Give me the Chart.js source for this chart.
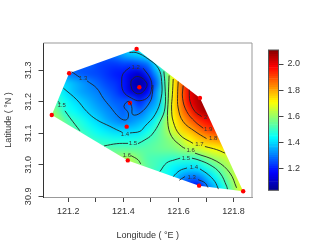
<!DOCTYPE html>
<html>
<head>
<meta charset="utf-8">
<style>
  body { margin: 0; background: #fff; }
  #wrap { position: relative; width: 319px; height: 252px; overflow: hidden; }
  canvas { position: absolute; filter: blur(0.3px); }
</style>
<script src="https://cdn.jsdelivr.net/npm/chart.js@4"></script>
</head>
<body>
<div id="wrap">
  <canvas id="field" width="319" height="252" style="left:0;top:0"></canvas>
  <canvas id="bar" width="59" height="170" style="left:260px;top:40px"></canvas>
</div>
<script>
// stations (red dots)
var stationLon = [121.448, 121.203, 121.140, 121.458, 121.424, 121.412, 121.678, 121.416, 121.675, 121.835];
var stationLat = [31.367, 31.290, 31.158, 31.246, 31.196, 31.121, 31.212, 31.014, 30.934, 30.916];
var hullOrder = [0, 6, 9, 8, 7, 2, 1];

// axes
var xTicks = [121.2, 121.3, 121.4, 121.5, 121.6, 121.7, 121.8];
var yTicks = [30.9, 31.0, 31.1, 31.2, 31.3];
var barTicks = [1.2, 1.4, 1.6, 1.8, 2.0];

// field values, one row per latitude
var gridLon = [121.13, 121.16, 121.19, 121.22, 121.25, 121.28, 121.31, 121.34, 121.37, 121.40, 121.43, 121.46, 121.49,
               121.52, 121.55, 121.58, 121.61, 121.64, 121.67, 121.70, 121.73, 121.76, 121.79, 121.82, 121.85];
var gridLat = [31.38, 31.35, 31.32, 31.29, 31.26, 31.23, 31.20, 31.17, 31.14, 31.11, 31.08, 31.05, 31.02, 30.99, 30.96, 30.93, 30.90];
var gridZ = [
  [1.28,1.28,1.28,1.28,1.28,1.28,1.28,1.28,1.30,1.36,1.40,1.42,1.46,1.54,1.70,1.85,1.95,2.05,2.08,2.10,2.10,2.10,2.10,2.10,2.10],
  [1.28,1.28,1.28,1.28,1.28,1.28,1.28,1.28,1.30,1.35,1.38,1.40,1.44,1.50,1.60,1.75,1.90,2.00,2.08,2.10,2.10,2.10,2.10,2.10,2.10],
  [1.27,1.27,1.27,1.27,1.27,1.27,1.24,1.23,1.23,1.24,1.24,1.26,1.30,1.42,1.55,1.72,1.88,2.00,2.08,2.10,2.10,2.10,2.10,2.10,2.10],
  [1.35,1.33,1.30,1.28,1.26,1.25,1.24,1.22,1.20,1.19,1.14,1.12,1.22,1.34,1.52,1.70,1.86,2.00,2.08,2.10,2.10,2.10,2.10,2.10,2.10],
  [1.42,1.40,1.39,1.36,1.33,1.30,1.27,1.24,1.22,1.19,1.10,1.06,1.13,1.28,1.50,1.70,1.86,2.00,2.08,2.10,2.10,2.10,2.10,2.10,2.10],
  [1.50,1.46,1.41,1.37,1.34,1.32,1.30,1.27,1.24,1.20,1.13,1.10,1.18,1.33,1.50,1.71,1.86,1.99,2.06,2.10,2.10,2.10,2.10,2.10,2.10],
  [1.55,1.50,1.45,1.41,1.38,1.35,1.32,1.30,1.27,1.26,1.27,1.21,1.28,1.35,1.50,1.72,1.85,1.98,2.05,2.08,2.10,2.10,2.10,2.10,2.10],
  [1.60,1.55,1.47,1.44,1.41,1.38,1.35,1.32,1.30,1.27,1.31,1.28,1.34,1.39,1.50,1.72,1.83,1.92,2.02,2.07,2.10,2.10,2.10,2.10,2.10],
  [1.62,1.60,1.53,1.49,1.46,1.42,1.39,1.35,1.32,1.30,1.32,1.35,1.385,1.46,1.58,1.70,1.78,1.86,1.92,1.96,2.00,2.02,2.02,2.02,2.02],
  [1.65,1.62,1.56,1.53,1.49,1.46,1.43,1.41,1.39,1.39,1.39,1.405,1.45,1.51,1.58,1.66,1.74,1.78,1.84,1.89,1.92,1.92,1.92,1.92,1.92],
  [1.68,1.66,1.62,1.58,1.54,1.50,1.48,1.47,1.46,1.46,1.46,1.47,1.505,1.53,1.56,1.595,1.64,1.71,1.75,1.785,1.81,1.83,1.83,1.83,1.83],
  [1.70,1.68,1.65,1.62,1.60,1.57,1.53,1.53,1.53,1.53,1.53,1.53,1.53,1.54,1.55,1.56,1.59,1.62,1.65,1.68,1.70,1.72,1.74,1.74,1.74],
  [1.70,1.70,1.68,1.66,1.65,1.64,1.63,1.62,1.60,1.61,1.61,1.56,1.52,1.51,1.50,1.49,1.49,1.49,1.50,1.56,1.60,1.63,1.66,1.70,1.70],
  [1.70,1.70,1.70,1.70,1.70,1.70,1.70,1.68,1.66,1.65,1.62,1.58,1.53,1.50,1.47,1.43,1.41,1.40,1.41,1.46,1.51,1.57,1.62,1.66,1.70],
  [1.70,1.70,1.70,1.70,1.70,1.70,1.70,1.68,1.66,1.65,1.60,1.55,1.50,1.46,1.45,1.41,1.33,1.29,1.29,1.36,1.43,1.51,1.59,1.67,1.70],
  [1.70,1.70,1.70,1.70,1.70,1.70,1.70,1.68,1.66,1.65,1.60,1.55,1.48,1.42,1.36,1.30,1.25,1.20,1.16,1.28,1.36,1.45,1.55,1.65,1.72],
  [1.70,1.70,1.70,1.70,1.70,1.70,1.70,1.68,1.66,1.65,1.60,1.55,1.48,1.42,1.36,1.30,1.22,1.17,1.13,1.26,1.34,1.44,1.54,1.66,1.74]
];

// contour lines, split where a label sits
var c11Lon = [121.427, 121.430, 121.454, 121.485, 121.478, 121.457, 121.435, 121.427];
var c11Lat = [31.253, 31.269, 31.280, 31.259, 31.238, 31.225, 31.234, 31.253];
var c12Lon = [121.424, 121.400, 121.394, 121.400, 121.430, 121.460, 121.491, 121.503, 121.497, 121.472];
var c12Lat = [31.309, 31.290, 31.269, 31.232, 31.211, 31.203, 31.216, 31.248, 31.275, 31.306];
var c13aLon = [121.212, 121.242];
var c13aLat = [31.295, 31.277];
var c13bLon = [121.268, 121.303, 121.327, 121.351, 121.388, 121.412, 121.418, 121.402, 121.418, 121.430, 121.434, 121.461, 121.497, 121.506, 121.507];
var c13bLat = [31.266, 31.243, 31.211, 31.185, 31.148, 31.143, 31.164, 31.185, 31.201, 31.185, 31.159, 31.164, 31.200, 31.231, 31.253];
var c13cLon = [121.603, 121.624];
var c13cLat = [30.951, 30.963];
var c13dLon = [121.671, 121.696, 121.707];
var c13dLat = [30.953, 30.943, 30.928];
var c14aLon = [121.182, 121.231, 121.267, 121.303, 121.351, 121.376, 121.394];
var c14aLat = [31.243, 31.206, 31.169, 31.143, 31.122, 31.111, 31.104];
var c14bLon = [121.424, 121.460, 121.478, 121.515, 121.537, 121.539, 121.527, 121.489, 121.449, 121.422];
var c14bLat = [31.101, 31.106, 31.122, 31.159, 31.211, 31.264, 31.306, 31.336, 31.355, 31.356];
var c14cLon = [121.581, 121.605, 121.631];
var c14cLat = [30.963, 30.982, 30.990];
var c14dLon = [121.678, 121.708, 121.732, 121.745];
var c14dLat = [30.987, 30.969, 30.947, 30.923];
var c15aLon = [121.164, 121.170];
var c15aLat = [31.201, 31.193];
var c15bLon = [121.188, 121.206, 121.242];
var c15bLat = [31.171, 31.149, 31.108];
var c15cLon = [121.330, 121.376, 121.417];
var c15cLat = [31.060, 31.067, 31.068];
var c15dLon = [121.453, 121.478, 121.503, 121.533, 121.551, 121.551, 121.547];
var c15dLat = [31.067, 31.079, 31.095, 31.137, 31.180, 31.253, 31.296];
var c15eLon = [121.533, 121.557, 121.587, 121.606];
var c15eLat = [30.979, 31.006, 31.016, 31.021];
var c15fLon = [121.649, 121.671, 121.714, 121.751, 121.775, 121.778];
var c15fLat = [31.021, 31.016, 31.000, 30.974, 30.932, 30.923];
var c16aLon = [121.566, 121.563, 121.561, 121.575, 121.612, 121.624];
var c16aLat = [31.283, 31.211, 31.137, 31.090, 31.058, 31.052];
var c16bLon = [121.660, 121.739, 121.787, 121.811];
var c16bLat = [31.037, 31.011, 30.974, 30.927];
var c16cLon = [121.428, 121.453, 121.463];
var c16cLat = [31.029, 31.016, 31.003];
var c17aLon = [121.581, 121.578, 121.575, 121.581, 121.605, 121.653];
var c17aLat = [31.272, 31.222, 31.180, 31.137, 31.095, 31.068];
var c17bLon = [121.696, 121.739, 121.769];
var c17bLat = [31.058, 31.048, 31.037];
var c18aLon = [121.599, 121.597, 121.599, 121.617, 121.660, 121.702];
var c18aLat = [31.264, 31.222, 31.180, 31.137, 31.106, 31.083];
var c19Lon = [121.617, 121.615, 121.630, 121.660, 121.690];
var c19Lat = [31.251, 31.211, 31.169, 31.137, 31.116];
var c20Lon = [121.639, 121.642, 121.660, 121.684];
var c20Lat = [31.238, 31.201, 31.169, 31.153];

var contourLines = [
  [c11Lon, c11Lat], [c12Lon, c12Lat], [c13aLon, c13aLat], [c13bLon, c13bLat], [c13cLon, c13cLat], [c13dLon, c13dLat],
  [c14aLon, c14aLat], [c14bLon, c14bLat], [c14cLon, c14cLat], [c14dLon, c14dLat],
  [c15aLon, c15aLat], [c15bLon, c15bLat], [c15cLon, c15cLat], [c15dLon, c15dLat], [c15eLon, c15eLat], [c15fLon, c15fLat],
  [c16aLon, c16aLat], [c16bLon, c16bLat], [c16cLon, c16cLat], [c17aLon, c17aLat], [c17bLon, c17bLat],
  [c18aLon, c18aLat], [c19Lon, c19Lat], [c20Lon, c20Lat]
];

var contourText = ['1.2', '1.3', '1.3', '1.4', '1.4', '1.5', '1.5', '1.5', '1.6', '1.6', '1.7', '1.8', '1.9', '2'];
var contourTextLon = [121.445, 121.254, 121.648, 121.406, 121.656, 121.176, 121.435, 121.627, 121.413, 121.644, 121.676, 121.726, 121.708, 121.699];
var contourTextLat = [31.309, 31.273, 30.959, 31.098, 30.992, 31.187, 31.067, 31.022, 31.029, 31.046, 31.066, 31.083, 31.113, 31.150];

var zMin = 1.035, zMax = 2.107;
var textColor = '#333';
var fontFamily = '"Liberation Sans", Arial, sans-serif';

function jet(t) {
  var stops = [[0, 0, 0, 143], [0.125, 0, 0, 255], [0.375, 0, 255, 255], [0.625, 255, 255, 0], [0.875, 255, 0, 0], [1, 128, 0, 0]];
  t = Math.max(0, Math.min(1, t));
  for (var i = 1; i < stops.length; i++) {
    if (t <= stops[i][0]) {
      var a = stops[i - 1], b = stops[i], f = (t - a[0]) / (b[0] - a[0]);
      return [a[1] + f * (b[1] - a[1]), a[2] + f * (b[2] - a[2]), a[3] + f * (b[3] - a[3])].map(Math.round);
    }
  }
  return [128, 0, 0];
}

// paints the grid through the scales, clipped to the station hull
var fieldPlugin = {
  id: 'fieldPlugin',
  beforeDatasetsDraw: function (chart) {
    var ctx = chart.ctx, sx = chart.scales.x, sy = chart.scales.y;
    var off = document.createElement('canvas');
    off.width = gridLon.length;
    off.height = gridLat.length;
    var octx = off.getContext('2d');
    var img = octx.createImageData(off.width, off.height);
    gridZ.forEach(function (row, r) {
      row.forEach(function (z, c) {
        var rgb = jet((z - zMin) / (zMax - zMin)), k = (r * off.width + c) * 4;
        img.data[k] = rgb[0]; img.data[k + 1] = rgb[1]; img.data[k + 2] = rgb[2]; img.data[k + 3] = 255;
      });
    });
    octx.putImageData(img, 0, 0);

    var halfX = (gridLon[1] - gridLon[0]) / 2, halfY = (gridLat[0] - gridLat[1]) / 2;
    var x0 = sx.getPixelForValue(gridLon[0] - halfX), x1 = sx.getPixelForValue(gridLon[gridLon.length - 1] + halfX);
    var y0 = sy.getPixelForValue(gridLat[0] + halfY), y1 = sy.getPixelForValue(gridLat[gridLat.length - 1] - halfY);

    ctx.save();
    ctx.beginPath();
    hullOrder.forEach(function (s, i) {
      var px = sx.getPixelForValue(stationLon[s]), py = sy.getPixelForValue(stationLat[s]);
      if (i === 0) ctx.moveTo(px, py); else ctx.lineTo(px, py);
    });
    ctx.closePath();
    ctx.clip();
    ctx.imageSmoothingEnabled = true;
    ctx.imageSmoothingQuality = 'high';
    ctx.drawImage(off, x0, y0, x1 - x0, y1 - y0);
    ctx.restore();
  },
  afterDatasetsDraw: function (chart) {
    var ctx = chart.ctx, sx = chart.scales.x, sy = chart.scales.y;
    ctx.save();
    ctx.font = '6px ' + fontFamily;
    ctx.fillStyle = '#333';
    ctx.textAlign = 'center';
    ctx.textBaseline = 'middle';
    contourText.forEach(function (t, i) {
      ctx.fillText(t, sx.getPixelForValue(contourTextLon[i]), sy.getPixelForValue(contourTextLat[i]));
    });
    ctx.restore();
  },
  afterDraw: function (chart) {
    var ctx = chart.ctx, a = chart.chartArea;
    ctx.save();
    ctx.strokeStyle = '#999';
    ctx.lineWidth = 1;
    ctx.beginPath();
    ctx.moveTo(a.left, a.top);
    ctx.lineTo(a.right, a.top);
    ctx.lineTo(a.right, a.bottom);
    ctx.stroke();
    ctx.restore();
  }
};

var datasets = contourLines.map(function (line) {
  return {
    data: line[0].map(function (v, i) { return { x: v, y: line[1][i] }; }),
    showLine: true,
    pointRadius: 0,
    borderColor: '#222',
    borderWidth: 0.9,
    tension: 0.4
  };
});
datasets.push({
  data: stationLon.map(function (v, i) { return { x: v, y: stationLat[i] }; }),
  pointRadius: 2.2,
  pointBackgroundColor: '#ff0000',
  pointBorderWidth: 0,
  showLine: false,
  clip: false
});

new Chart(document.getElementById('field').getContext('2d'), {
  type: 'scatter',
  data: { datasets: datasets },
  plugins: [fieldPlugin],
  options: {
    responsive: false,
    animation: false,
    layout: { padding: { left: 0, right: 67, top: 43, bottom: 0 } },
    plugins: { legend: { display: false }, tooltip: { enabled: false } },
    scales: {
      x: {
        type: 'linear',
        min: 121.11,
        max: 121.867,
        afterBuildTicks: function (s) { s.ticks = xTicks.map(function (v) { return { value: v }; }); },
        afterFit: function (s) { s.height = 55; },
        grid: { drawOnChartArea: false, tickLength: 5, color: '#444' },
        border: { color: '#999' },
        ticks: {
          autoSkip: false,
          maxRotation: 0,
          padding: 4,
          color: textColor,
          font: { family: fontFamily, size: 9 },
          callback: function (v) { return Math.round(v * 10) % 2 === 0 ? v.toFixed(1) : ''; }
        },
        title: { display: true, text: 'Longitude ( °E )', color: textColor, font: { family: fontFamily, size: 9 }, padding: { top: 0, bottom: 11 } }
      },
      y: {
        type: 'linear',
        min: 30.898,
        max: 31.386,
        afterBuildTicks: function (s) { s.ticks = yTicks.map(function (v) { return { value: v }; }); },
        afterFit: function (s) { s.width = 43.5; },
        grid: { drawOnChartArea: false, tickLength: 5, color: '#444' },
        border: { color: '#333' },
        ticks: {
          autoSkip: false,
          minRotation: 90,
          maxRotation: 90,
          crossAlign: 'center',
          padding: 1,
          color: textColor,
          font: { family: fontFamily, size: 9 },
          callback: function (v) { return v.toFixed(1); }
        },
        title: { display: true, text: 'Latitude ( °N )', color: textColor, font: { family: fontFamily, size: 9 }, padding: { top: 3, bottom: 0 } }
      }
    }
  }
});

// colour bar, 64 stacked steps
var barSets = [];
for (var i = 0; i < 64; i++) {
  var rgb = jet((i + 0.5) / 64);
  barSets.push({
    data: [[zMin + (zMax - zMin) * i / 64, zMin + (zMax - zMin) * (i + 1) / 64]],
    backgroundColor: 'rgb(' + rgb.join(',') + ')',
    borderWidth: 0,
    barPercentage: 1,
    categoryPercentage: 1,
    grouped: false
  });
}

new Chart(document.getElementById('bar').getContext('2d'), {
  type: 'bar',
  data: { labels: [''], datasets: barSets },
  plugins: [{
    id: 'barBox',
    afterDraw: function (chart) {
      var a = chart.chartArea;
      chart.ctx.strokeStyle = '#555';
      chart.ctx.lineWidth = 1;
      chart.ctx.strokeRect(a.left, a.top, a.right - a.left, a.bottom - a.top);
    }
  }],
  options: {
    responsive: false,
    animation: false,
    layout: { padding: { left: 8.5, right: 0, top: 10, bottom: 19.7 } },
    plugins: { legend: { display: false }, tooltip: { enabled: false } },
    scales: {
      x: { display: false },
      y: {
        position: 'right',
        min: zMin,
        max: zMax,
        afterBuildTicks: function (s) { s.ticks = barTicks.map(function (v) { return { value: v }; }); },
        afterFit: function (s) { s.width = 40.5; },
        grid: { drawOnChartArea: false, tickLength: 5, color: '#444' },
        border: { display: false },
        ticks: {
          padding: 4,
          color: textColor,
          font: { family: fontFamily, size: 9 },
          callback: function (v) { return v.toFixed(1); }
        }
      }
    }
  }
});
</script>
</body>
</html>
